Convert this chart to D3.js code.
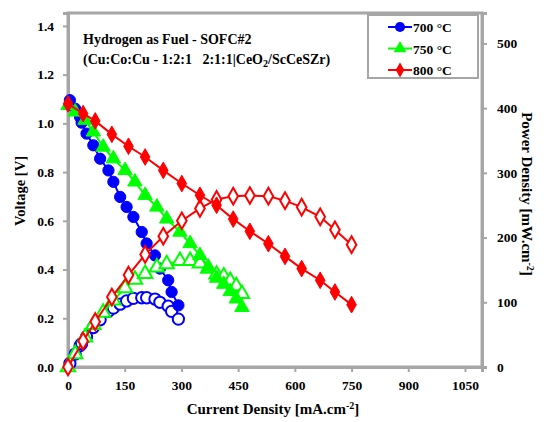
<!DOCTYPE html>
<html>
<head>
<meta charset="utf-8">
<script src="https://cdn.jsdelivr.net/npm/d3@7"></script>
<style>
  body { margin: 0; background: #fff; }
  text { font-family: "Liberation Serif", "DejaVu Serif", serif; font-weight: bold; }
</style>
</head>
<body>
<div id="chart"></div>
<script>
// data
const xTicks = [0, 150, 300, 450, 600, 750, 900, 1050];
const vTicks = [0, 0.2, 0.4, 0.6, 0.8, 1.0, 1.2, 1.4];
const pTicks = [0, 100, 200, 300, 400, 500];

const j700 = [5, 19, 32, 36, 49, 67, 85, 107, 120, 138, 155, 173, 195, 208, 230, 243, 265, 274, 292];
const v700 = [1.095, 1.06, 1.026, 1.003, 0.958, 0.91, 0.855, 0.807, 0.76, 0.698, 0.657, 0.616, 0.554, 0.507, 0.458, 0.404, 0.356, 0.308, 0.253];
const p700 = [5.5, 20, 33, 36, 47, 61, 73, 86, 91, 97, 102, 106, 107, 107, 105, 100, 94, 86, 74];

const j750 = [0, 19, 45, 67, 93, 120, 151, 177, 204, 235, 261, 296, 323, 349, 371, 393, 412, 429, 445, 460];
const v750 = [1.074, 1.047, 1.013, 0.965, 0.903, 0.855, 0.807, 0.76, 0.705, 0.657, 0.608, 0.554, 0.507, 0.458, 0.41, 0.365, 0.34, 0.31, 0.28, 0.245];
const p750 = [0, 20, 46, 65, 84, 103, 122, 135, 144, 154, 159, 164, 164, 160, 152, 143, 140, 133, 125, 113];

const j800 = [0, 40, 72, 116, 160, 204, 252, 301, 349, 393, 437, 481, 530, 574, 618, 667, 706, 750];
const v800 = [1.08, 1.04, 1.01, 0.955, 0.906, 0.862, 0.807, 0.753, 0.705, 0.664, 0.607, 0.557, 0.506, 0.454, 0.404, 0.356, 0.308, 0.256];
const p800 = [0, 40, 70, 108, 142, 174, 202, 226, 245, 259, 264, 265, 264, 257, 247, 232, 212, 189];

const seriesNames = ["700 °C", "750 °C", "800 °C"];
const colors = ["#0000ff", "#00ff00", "#ff0000"];
const symbols = [d3.symbolCircle, d3.symbolTriangle, d3.symbolDiamond];
const symSizes = [100, 90, 80];

const width = 544, height = 422;
const mLeft = 68, mRight = 482, mTop = 13, mBottom = 367;
const axisGray = "#a6a6a6";

const svg = d3.select("#chart").append("svg")
    .attr("width", width)
    .attr("height", height);

const x = d3.scaleLinear().domain([0, 1095]).range([mLeft, mRight]);
const yV = d3.scaleLinear().domain([0, 1.453]).range([mBottom, mTop]);
const yP = d3.scaleLinear().domain([0, 547]).range([mBottom, mTop]);

// frame
svg.append("rect")
    .attr("x", mLeft).attr("y", mTop)
    .attr("width", mRight - mLeft).attr("height", mBottom - mTop)
    .attr("fill", "none").attr("stroke", axisGray).attr("stroke-width", 3);

function styleAxis(g) {
    g.select(".domain").attr("stroke", axisGray).attr("stroke-width", 3);
    g.selectAll(".tick line").attr("stroke", axisGray).attr("stroke-width", 2);
    g.selectAll(".tick text").attr("fill", "#000").style("font-size", "13.5px")
        .style("font-family", "Liberation Serif").style("font-weight", "bold");
}

svg.append("g")
    .attr("transform", `translate(0,${mBottom})`)
    .call(d3.axisBottom(x).tickValues(xTicks).tickSize(5).tickPadding(8).tickFormat(d3.format("d")))
    .call(styleAxis);

svg.append("g")
    .attr("transform", `translate(${mLeft},0)`)
    .call(d3.axisLeft(yV).tickValues(vTicks).tickSize(5).tickPadding(9).tickFormat(d3.format(".1f")))
    .call(styleAxis);

svg.append("g")
    .attr("transform", `translate(${mRight},0)`)
    .call(d3.axisRight(yP).tickValues(pTicks).tickSize(5).tickPadding(10).tickFormat(d3.format("d")))
    .call(styleAxis);

// series
const series = [
    { j: j700, v: v700, p: p700 },
    { j: j750, v: v750, p: p750 },
    { j: j800, v: v800, p: p800 }
];

const plot = svg.append("g");

series.forEach(function(s, i) {
    let vData = s.j.map((d, k) => [d, s.v[k]]);
    let pData = s.j.map((d, k) => [d, s.p[k]]);

    let lineV = d3.line().x(d => x(d[0])).y(d => yV(d[1]));
    let lineP = d3.line().x(d => x(d[0])).y(d => yP(d[1]));

    plot.append("path").datum(pData)
        .attr("d", lineP).attr("fill", "none")
        .attr("stroke", colors[i]).attr("stroke-width", 2);
    plot.append("path").datum(vData)
        .attr("d", lineV).attr("fill", "none")
        .attr("stroke", colors[i]).attr("stroke-width", 2);

    let sym = d3.symbol().type(symbols[i]).size(symSizes[i]);

    plot.selectAll(null).data(pData).enter()
        .append("path")
        .attr("d", sym)
        .attr("transform", d => `translate(${x(d[0])},${yP(d[1])})`)
        .attr("fill", "#fff").attr("stroke", colors[i]).attr("stroke-width", 2);

    plot.selectAll(null).data(vData).enter()
        .append("path")
        .attr("d", sym)
        .attr("transform", d => `translate(${x(d[0])},${yV(d[1])})`)
        .attr("fill", colors[i]).attr("stroke", colors[i]).attr("stroke-width", 1);
});

// legend
const legend = svg.append("g");
legend.append("rect")
    .attr("x", 368).attr("y", 15).attr("width", 110).attr("height", 63)
    .attr("fill", "#fff").attr("stroke", axisGray).attr("stroke-width", 2);

seriesNames.forEach(function(name, i) {
    let ly = 27 + i * 21.5;
    legend.append("line")
        .attr("x1", 388).attr("x2", 412).attr("y1", ly).attr("y2", ly)
        .attr("stroke", colors[i]).attr("stroke-width", 2);
    legend.append("path")
        .attr("d", d3.symbol().type(symbols[i]).size(symSizes[i] * 0.8))
        .attr("transform", `translate(400,${ly})`)
        .attr("fill", colors[i]);
    legend.append("text")
        .attr("x", 413).attr("y", ly + 5)
        .style("font-size", "13.5px")
        .text(name);
});

// annotation
svg.append("text")
    .attr("x", 83).attr("y", 44)
    .style("font-size", "14px")
    .text("Hydrogen as Fuel - SOFC#2");

let t2 = svg.append("text")
    .attr("x", 83).attr("y", 64)
    .style("font-size", "14px");
t2.append("tspan").text("(Cu:Co:Cu - 1:2:1\u00a0\u00a0\u00a02:1:1|CeO");
t2.append("tspan").attr("dy", 3).style("font-size", "10px").text("2");
t2.append("tspan").attr("dy", -3).text("/ScCeSZr)");

// axis titles
let xt = svg.append("text")
    .attr("x", 273).attr("y", 414)
    .attr("text-anchor", "middle")
    .style("font-size", "15px");
xt.append("tspan").text("Current Density [mA.cm");
xt.append("tspan").attr("dy", -5).style("font-size", "10px").text("-2");
xt.append("tspan").attr("dy", 5).text("]");

svg.append("text")
    .attr("transform", `translate(25,191) rotate(-90)`)
    .attr("text-anchor", "middle")
    .style("font-size", "14.5px")
    .text("Voltage [V]");

let pt = svg.append("text")
    .attr("transform", `translate(522,194) rotate(90)`)
    .attr("text-anchor", "middle")
    .style("font-size", "15px");
pt.append("tspan").text("Power Density [mW.cm");
pt.append("tspan").attr("dy", -5).style("font-size", "10px").text("-2");
pt.append("tspan").attr("dy", 5).text("]");
</script>
</body>
</html>
